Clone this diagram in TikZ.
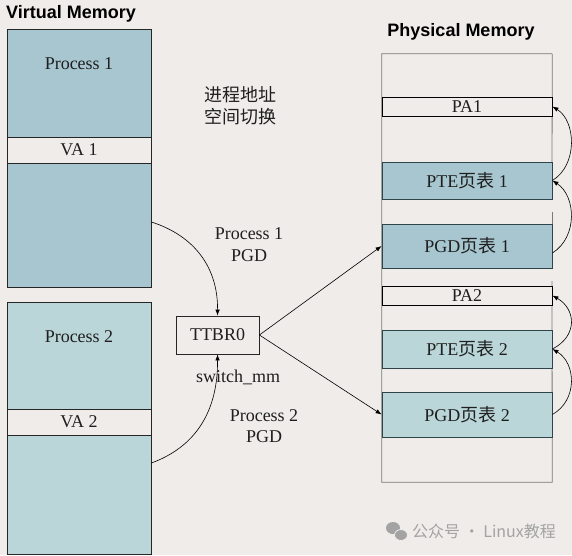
\documentclass[tikz,border=0pt]{standalone}
\usepackage{fontspec}
\setmainfont{Liberation Serif}
\newfontfamily\cjk{Noto Sans CJK SC}
\newfontfamily\titlesans{Liberation Sans}
\usetikzlibrary{arrows.meta}
\definecolor{bgc}{HTML}{EFECE9}
\definecolor{pone}{HTML}{A7C6D0}
\definecolor{ptwo}{HTML}{BAD6D9}
\definecolor{edgec}{HTML}{2E4448}
\definecolor{colgray}{HTML}{7A7A7A}
\definecolor{wmgray}{HTML}{A3A3A3}
\begin{document}
\begin{tikzpicture}[x=1pt,y=-1pt,
  lbl/.style={font=\fontsize{18}{21}\selectfont, text=black!88, inner sep=0pt, align=center},
  blk/.style={draw=black!85, line width=0.8pt, inner sep=0pt, minimum width=144pt, font=\fontsize{18}{21}\selectfont, text=black!88},
  mem/.style={draw=edgec, line width=0.8pt, inner sep=0pt, minimum width=170pt, font=\fontsize{18}{21}\selectfont, text=black!88},
  pabox/.style={draw=black, line width=0.8pt, fill=bgc, inner sep=0pt, minimum width=170pt, minimum height=19pt, font=\fontsize{18}{21}\selectfont, text=black!88},
  conn/.style={line width=0.6pt, -{Latex[length=6pt,width=4.5pt]}},
  ttl/.style={font=\titlesans\bfseries\fontsize{18}{21}\selectfont, inner sep=0pt}
]
\fill[bgc] (0,0) rectangle (572,555);
\useasboundingbox (0,0) rectangle (572,555);

% titles
\node[ttl, anchor=west] (vtitle) at (6,14) {Virtual Memory};
\node[ttl] (ptitle) at (461,32) {Physical Memory};

% virtual memory
\node[blk, fill=pone, minimum height=258pt] (proc1) at (79,158) {};
\node[blk, fill=bgc, minimum height=26pt] (va1) at (79,150) {VA 1};
\node[lbl] (p1lbl) at (79,64) {Process 1};

\node[blk, fill=ptwo, minimum height=252pt] (proc2) at (79,428) {};
\node[blk, fill=bgc, minimum height=26pt] (va2) at (79,422) {VA 2};
\node[lbl] (p2lbl) at (79,337) {Process 2};

% middle texts
\node[lbl, font=\cjk\fontsize{18}{22}\selectfont] (cn) at (240,106) {进程地址\\空间切换};
\node[lbl, font=\fontsize{18}{22}\selectfont] (p1pgd) at (249,245) {Process 1\\PGD};
\node[draw=black!85, line width=0.8pt, minimum width=83pt, minimum height=38pt, lbl] (ttbr) at (217.5,335) {TTBR0};
\node[lbl] (swmm) at (238,377) {switch\_mm};
\node[lbl, font=\fontsize{18}{21}\selectfont] (p2pgd) at (264,426.5) {Process 2\\PGD};

% physical memory column
\node[fill=bgc, minimum width=170pt, minimum height=428pt, inner sep=0pt] (phys) at (467,268) {};
\draw[colgray, line width=0.8pt] (phys.north east) -- (phys.north west) -- (phys.south west) -- (phys.south east) -- (552,281);
\draw[colgray, line width=0.8pt] (552,212) -- (552,268);
\draw[colgray, line width=0.8pt] (phys.north east) -- (552,199);

\node[pabox] (pa1) at (467,106.5) {PA1};
\node[mem, fill=pone, minimum height=37pt] (pte1) at (467,180.5) {PTE{\cjk 页表} 1};
\node[mem, fill=pone, minimum height=44pt] (pgd1) at (467,246) {PGD{\cjk 页表} 1};
\node[pabox] (pa2) at (467,295.5) {PA2};
\node[mem, fill=ptwo, minimum height=38pt] (pte2) at (467,349) {PTE{\cjk 页表} 2};
\node[mem, fill=ptwo, minimum height=45pt] (pgd2) at (467,414.5) {PGD{\cjk 页表} 2};

% connectors
\draw[conn] ([yshift=-64pt]proc1.east) .. controls (195,236) and (218,268) .. (ttbr.north);
\draw[conn] ([yshift=-35pt]proc2.east) .. controls (195,447) and (218,412) .. (ttbr.south);
\draw[conn] (ttbr.east) -- (pgd1.west);
\draw[conn] (ttbr.east) -- (pgd2.west);

\draw[conn] ([yshift=-7pt]pgd1.east) .. controls (578,237) and (576,196) .. (pte1.east);
\draw[conn] (pte1.east) .. controls (578,165) and (576,121) .. (pa1.east);
\draw[conn] (pgd2.east) .. controls (578,400) and (576,363) .. (pte2.east);
\draw[conn] (pte2.east) .. controls (578,336) and (576,309) .. (pa2.east);

% watermark
\fill[wmgray] (393,528) ellipse [x radius=7pt, y radius=6pt];
\fill[wmgray, draw=bgc, line width=0.8pt] (401,535) ellipse [x radius=6.5pt, y radius=5.5pt];
\node[anchor=west, inner sep=0pt, text=wmgray, font=\cjk\fontsize{16}{18}\selectfont] (wm) at (412,531) {公众号 · Linux教程};
\end{tikzpicture}
\end{document}
